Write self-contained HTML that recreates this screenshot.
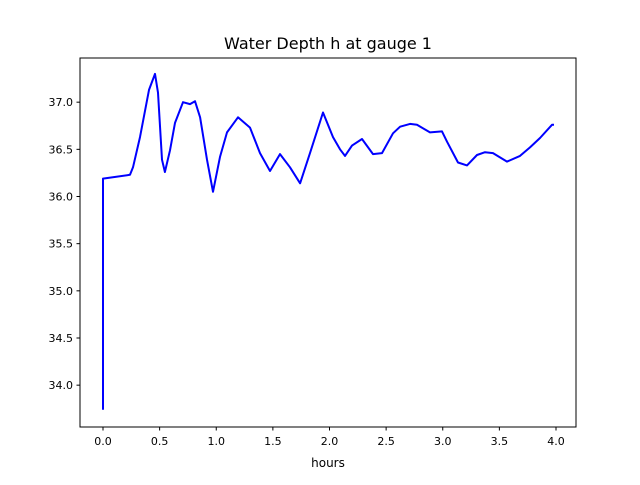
<!DOCTYPE html>
<html><head><meta charset="utf-8"><style>
body{margin:0;background:#fff;}
svg text{font-family:"DejaVu Sans","Liberation Sans",sans-serif;}
</style></head><body>
<svg id="chart" width="640" height="480">
<rect width="640" height="480" fill="#fff"/>
<text x="328" y="49" font-size="16" text-anchor="middle">Water Depth h at gauge 1</text>
<g id="ticks"></g>
<path id="line" fill="none" stroke="#0000ff" stroke-width="2" stroke-linejoin="round"/>
<rect x="80" y="58" width="496" height="369" fill="none" stroke="#000" stroke-width="1"/>
<text x="328" y="467" font-size="12" text-anchor="middle">hours</text>
</svg>
<script>
const hours=[0,0,0.238,0.265,0.327,0.406,0.459,0.486,0.521,0.547,0.592,0.636,0.706,0.768,0.812,0.857,0.918,0.971,1.033,1.095,1.192,1.298,1.386,1.475,1.563,1.651,1.740,1.828,1.943,2.031,2.093,2.137,2.199,2.287,2.384,2.464,2.561,2.623,2.711,2.773,2.887,2.993,3.038,3.135,3.214,3.302,3.373,3.444,3.567,3.682,3.770,3.859,3.965,3.982];
const depth=[33.74,36.19,36.23,36.31,36.63,37.13,37.30,37.10,36.39,36.26,36.49,36.78,37.00,36.98,37.01,36.84,36.39,36.05,36.42,36.68,36.84,36.73,36.46,36.27,36.45,36.31,36.14,36.46,36.89,36.63,36.50,36.43,36.54,36.61,36.45,36.46,36.67,36.74,36.77,36.76,36.68,36.69,36.58,36.36,36.33,36.44,36.47,36.46,36.37,36.43,36.52,36.62,36.76,36.76];
const xTicks=[0,0.5,1,1.5,2,2.5,3,3.5,4];
const yTicks=[34,34.5,35,35.5,36,36.5,37];
const xs=v=>103+v*113.25;
const ys=v=>196.5-(v-36)*94.33;
const NS="http://www.w3.org/2000/svg";
const g=document.getElementById('ticks');
function mk(tag,attrs){const e=document.createElementNS(NS,tag);for(const k in attrs)e.setAttribute(k,attrs[k]);g.appendChild(e);return e;}
xTicks.forEach(t=>{
  const x=xs(t);
  const l=mk('line',{x1:x,x2:x,y1:427,y2:430.5,stroke:'#000'});
  
  
  const tx=mk('text',{x:x,y:445,'font-size':11,'text-anchor':'middle'});
  
  
  tx.textContent=t.toFixed(1);
});
yTicks.forEach(t=>{
  const y=ys(t);
  const l=mk('line',{x1:76.5,x2:80,y1:y,y2:y,stroke:'#000'});
  
  
  const tx=mk('text',{x:73,y:y+4,'font-size':11,'text-anchor':'end'});
  
  
  tx.textContent=t.toFixed(1);
});
document.getElementById('line').setAttribute('d',hours.map((h,i)=>(i?'L':'M')+xs(h).toFixed(1)+' '+ys(depth[i]).toFixed(1)).join(' '));
</script>
</body></html>
